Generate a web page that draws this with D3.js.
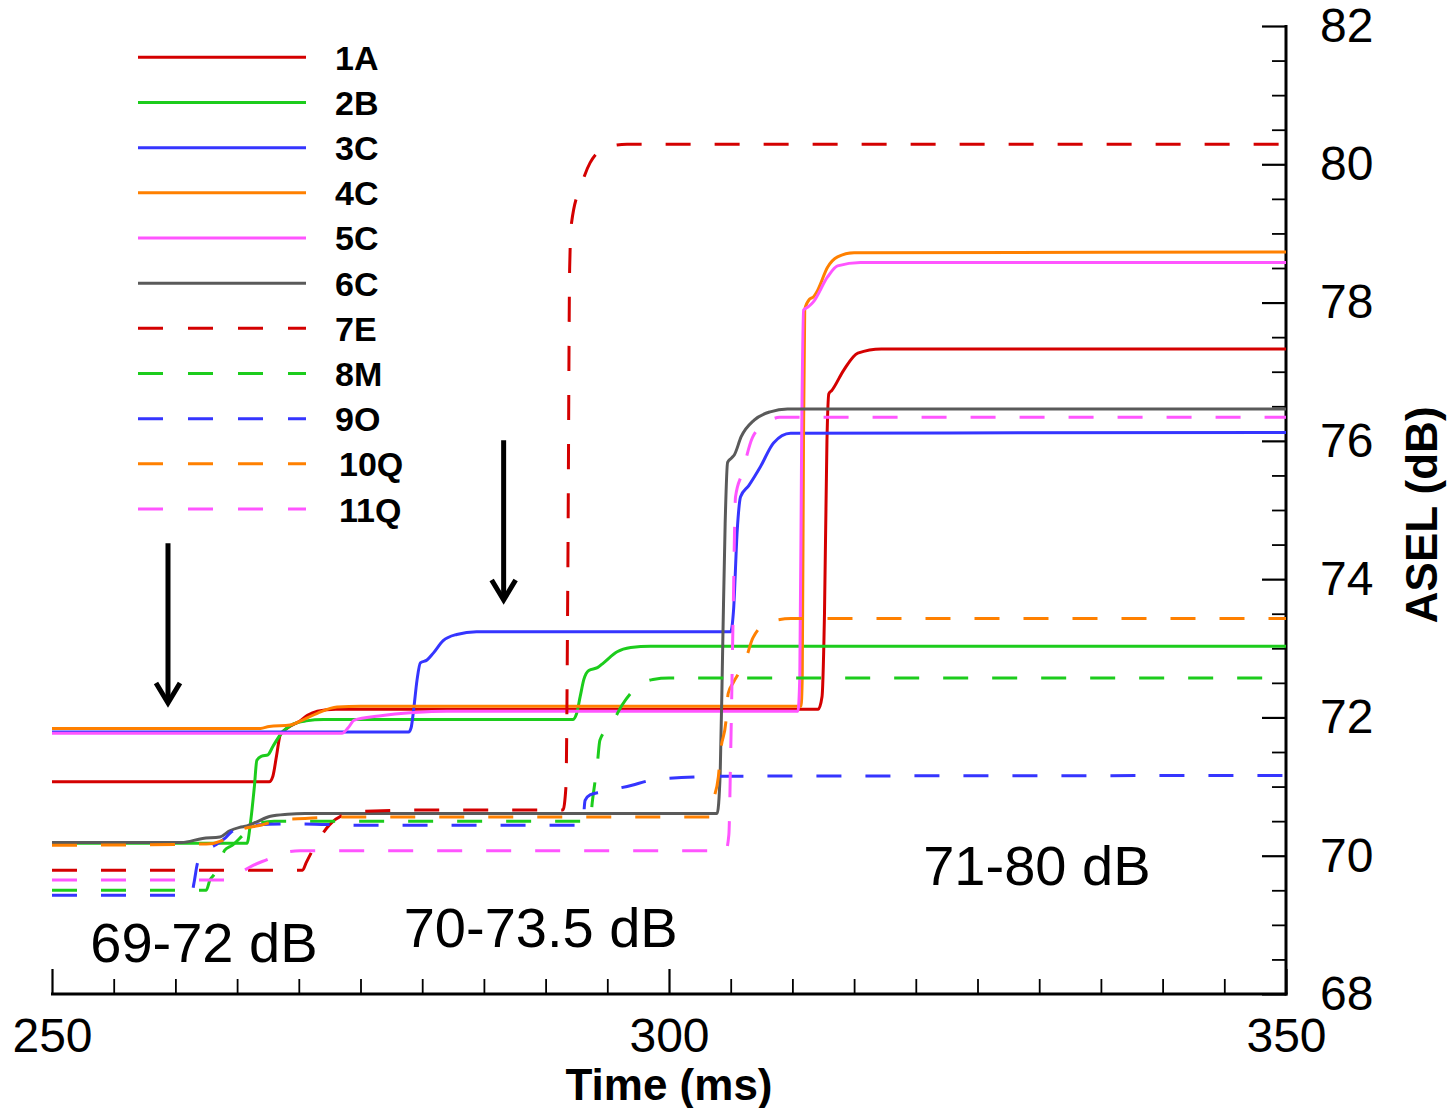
<!DOCTYPE html>
<html>
<head>
<meta charset="utf-8">
<script src="https://cdn.jsdelivr.net/npm/d3@7"></script>
<style>
  html, body { margin: 0; padding: 0; background: #fff; }
  svg { display: block; }
</style>
</head>
<body>
<svg id="chart" width="1454" height="1108"></svg>
<script>
// Receiver labels, in legend order
const seriesNames = ["1A", "2B", "3C", "4C", "5C", "6C", "7E", "8M", "9O", "10Q", "11Q"];
const seriesColors = ["#d40000", "#1ccc1c", "#3535ff", "#ff8000", "#ff55ff", "#5a5a5a",
                      "#d40000", "#1ccc1c", "#3535ff", "#ff8000", "#ff55ff"];
const seriesDashed = [false, false, false, false, false, false, true, true, true, true, true];

// ASEL (dB) against time (ms), one array of [t, dB] pairs per receiver
const s1A = [[250,71.07],[267.6,71.07],[267.9,71.15],[268.2,71.45],[268.5,71.75],[269.1,71.85],[270.1,71.95],[270.7,72.03],[271.5,72.09],[273,72.12],[312.1,72.12],[312.4,72.3],[312.6,73.5],[312.8,76.0],[312.95,76.68],[313.2,76.73],[314.15,77.02],[315.3,77.27],[317.2,77.33],[350,77.33]];
const s2B = [[250,70.18],[265.8,70.18],[266.1,70.5],[266.4,71.0],[266.6,71.38],[267.0,71.44],[267.5,71.46],[267.9,71.58],[268.5,71.75],[269.5,71.9],[270.6,71.95],[272,71.97],[292.2,71.97],[292.5,72.05],[292.8,72.3],[293.1,72.55],[293.5,72.68],[294.2,72.72],[294.7,72.79],[295.8,72.95],[296.9,73.01],[298.5,73.03],[350,73.03]];
const s3C = [[250,71.79],[278.9,71.79],[279.1,71.85],[279.3,72.1],[279.58,72.54],[279.85,72.79],[280.39,72.83],[280.9,72.93],[281.7,73.11],[282.8,73.2],[284.4,73.24],[305.0,73.24],[305.23,73.55],[305.53,74.71],[305.8,75.19],[306.45,75.35],[307.42,75.63],[308.47,75.97],[309.85,76.11],[350,76.12]];
const s4C = [[250,71.84],[266.9,71.84],[267.6,71.87],[269.3,71.89],[270.4,71.97],[271.5,72.06],[273.1,72.15],[275,72.16],[310.7,72.16],[310.8,72.6],[310.9,76.0],[311.0,77.9],[311.4,78.05],[311.7,78.08],[312.05,78.18],[312.85,78.51],[313.66,78.66],[315.0,78.72],[350,78.73]];
const s5C = [[250,71.77],[273.5,71.77],[274.0,71.85],[274.5,71.96],[276.5,72.02],[279.3,72.07],[282,72.09],[310.45,72.09],[310.6,72.6],[310.75,76.0],[310.9,77.89],[311.3,77.94],[311.7,78.01],[312.85,78.37],[313.66,78.53],[315.5,78.58],[350,78.58]];
const s6C = [[250,70.19],[260.5,70.19],[262.2,70.25],[263.6,70.27],[264.4,70.36],[265.2,70.41],[265.8,70.43],[266.6,70.49],[267.7,70.57],[269.1,70.6],[270.5,70.61],[303.9,70.61],[304.15,71.2],[304.35,73.0],[304.55,74.8],[304.75,75.69],[305.05,75.75],[305.3,75.8],[305.85,76.06],[306.9,76.3],[308.2,76.42],[309.6,76.46],[350,76.46]];
const s7E = [[250,69.79],[270.3,69.79],[270.6,69.9],[271.5,70.2],[272.5,70.45],[273.5,70.58],[275,70.64],[280,70.66],[291.4,70.66],[291.65,71.0],[291.8,74.0],[291.95,78.5],[292.1,79.15],[292.95,79.73],[293.6,80.02],[295.0,80.25],[296.6,80.29],[350,80.29]];
const s8M = [[250,69.5],[262.5,69.5],[262.8,69.65],[263.1,69.72],[263.6,69.9],[264.0,70.08],[264.6,70.15],[265.5,70.3],[266.5,70.45],[268,70.5],[293.6,70.5],[293.8,70.8],[294.2,71.34],[294.4,71.67],[295.4,71.92],[296.2,72.18],[297.4,72.44],[298.7,72.55],[300,72.57],[350,72.57]];
const s9O = [[250,69.43],[261.3,69.43],[261.5,69.6],[261.8,69.9],[262.3,70.05],[263.2,70.15],[264.0,70.25],[264.5,70.34],[266,70.44],[270,70.46],[275,70.44],[293.0,70.44],[293.2,70.8],[293.6,70.88],[294.5,70.92],[297.0,71.02],[298.5,71.09],[301,71.13],[305,71.15],[350,71.16]];
const s10Q = [[250,70.15],[262.5,70.17],[263.8,70.22],[264.8,70.33],[265.5,70.39],[266.9,70.44],[268.5,70.52],[270.5,70.54],[273.5,70.56],[303.3,70.56],[303.6,70.81],[304.0,71.14],[304.2,71.53],[304.6,71.92],[304.8,72.35],[305.2,72.5],[306.2,72.83],[306.8,73.15],[308.1,73.38],[309.9,73.43],[350,73.43]];
const s11Q = [[250,69.65],[264.3,69.65],[265.4,69.77],[266.3,69.86],[267.5,69.95],[268.5,70.03],[270.1,70.07],[304.6,70.07],[304.85,70.3],[305.0,71.5],[305.2,73.5],[305.39,75.19],[305.93,75.53],[306.77,76.05],[307.9,76.26],[308.96,76.34],[350,76.34]];
const seriesValues = [s1A, s2B, s3C, s4C, s5C, s6C, s7E, s8M, s9O, s10Q, s11Q];

// Axis ticks
const xMajorTicks = [250, 300, 350];
const xMinorTicks = [255, 260, 265, 270, 275, 280, 285, 290, 295, 305, 310, 315, 320, 325, 330, 335, 340, 345];
const yMajorTicks = [68, 70, 72, 74, 76, 78, 80, 82];
const yMinorTicks = d3.range(68.5, 82, 0.5).filter(v => v % 2 !== 0);

// Range annotations [label, t, dB of baseline]
const rangeLabels = [["69-72 dB", 253.1, 68.46], ["70-73.5 dB", 278.5, 68.68], ["71-80 dB", 320.6, 69.58]];
// Arrows [t, dB top, dB tip]
const arrows = [[259.4, 74.52, 72.18], [286.6, 76.01, 73.67]];

const svg = d3.select("#chart");
const x = d3.scaleLinear().domain([250, 350]).range([52, 1286]);
const y = d3.scaleLinear().domain([68, 82]).range([994, 26]);

const tickFont = "'Liberation Sans', Arial, sans-serif";

// x axis: minor then major ticks, pointing into the plot
const gxMinor = svg.append("g").attr("transform", `translate(0,${y(68)})`)
  .call(d3.axisBottom(x).tickValues(xMinorTicks).tickSize(-15).tickSizeOuter(0).tickFormat(""));
const gxMajor = svg.append("g").attr("transform", `translate(0,${y(68)})`)
  .call(d3.axisBottom(x).tickValues(xMajorTicks).tickSize(-25).tickSizeOuter(0).tickPadding(24).tickFormat(d3.format("d")));

// y axis on the right, ticks pointing left
const gyMinor = svg.append("g").attr("transform", `translate(${x(350)},0)`)
  .call(d3.axisRight(y).tickValues(yMinorTicks).tickSize(-14).tickSizeOuter(0).tickFormat(""));
const gyMajor = svg.append("g").attr("transform", `translate(${x(350)},0)`)
  .call(d3.axisRight(y).tickValues(yMajorTicks).tickSize(-24).tickSizeOuter(0).tickPadding(34).tickFormat(d3.format("d")));

[gxMinor, gxMajor, gyMinor, gyMajor].forEach(g => {
  g.select(".domain").remove();
  g.selectAll(".tick line").attr("stroke", "#000").attr("stroke-width", 1.8);
  g.selectAll(".tick text").attr("fill", "#000").attr("font-family", tickFont).attr("font-size", 48);
});
gxMajor.selectAll(".tick line").attr("stroke-width", 2.2);
gyMajor.selectAll(".tick line").attr("stroke-width", 2.2);

// axis lines
svg.append("line").attr("x1", x(250) - 1).attr("x2", x(350) + 1.5).attr("y1", y(68)).attr("y2", y(68))
  .attr("stroke", "#000").attr("stroke-width", 3);
svg.append("line").attr("x1", x(350)).attr("x2", x(350)).attr("y1", y(82) - 1).attr("y2", y(68) + 1.5)
  .attr("stroke", "#000").attr("stroke-width", 3);

// axis titles
svg.append("text").attr("x", x(300)).attr("y", 1100).attr("text-anchor", "middle")
  .attr("font-family", tickFont).attr("font-weight", "bold").attr("font-size", 44).text("Time (ms)");
svg.append("text").attr("transform", `translate(1437,${y(74.93)}) rotate(-90)`).attr("text-anchor", "middle")
  .attr("font-family", tickFont).attr("font-weight", "bold").attr("font-size", 44).text("ASEL (dB)");

// curves
const line = d3.line().x(d => x(d[0])).y(d => y(d[1])).curve(d3.curveMonotoneX);
const curves = svg.append("g").attr("fill", "none").attr("stroke-width", 3).attr("stroke-linejoin", "round");
seriesValues.forEach((vals, i) => {
  curves.append("path")
    .attr("d", line(vals))
    .attr("stroke", seriesColors[i])
    .attr("stroke-dasharray", seriesDashed[i] ? "25,24" : null);
});

// legend
const legend = svg.append("g");
seriesNames.forEach((name, i) => {
  const ly = 57.3 + i * 45.17;
  legend.append("line").attr("x1", 138).attr("x2", 306).attr("y1", ly).attr("y2", ly)
    .attr("stroke", seriesColors[i]).attr("stroke-width", 3)
    .attr("stroke-dasharray", seriesDashed[i] ? "25,25" : null);
  legend.append("text").attr("x", name.length > 2 ? 339 : 335).attr("y", ly + 12.5)
    .attr("font-family", tickFont).attr("font-weight", "bold").attr("font-size", 34)
    .attr("fill", "#000").text(name);
});

// arrows
arrows.forEach(([t, top, tip]) => {
  const ax = x(t), y0 = y(top), y1 = y(tip);
  svg.append("line").attr("x1", ax).attr("x2", ax).attr("y1", y0).attr("y2", y1 - 3)
    .attr("stroke", "#000").attr("stroke-width", 5);
  svg.append("path").attr("d", `M${ax - 12},${y1 - 22} L${ax},${y1 - 2} L${ax + 12},${y1 - 22}`)
    .attr("fill", "none").attr("stroke", "#000").attr("stroke-width", 5).attr("stroke-linejoin", "miter");
});

// range labels
rangeLabels.forEach(([txt, t, v]) => {
  svg.append("text").attr("x", x(t)).attr("y", y(v))
    .attr("font-family", tickFont).attr("font-size", 56).attr("fill", "#000").text(txt);
});
</script>
</body>
</html>
